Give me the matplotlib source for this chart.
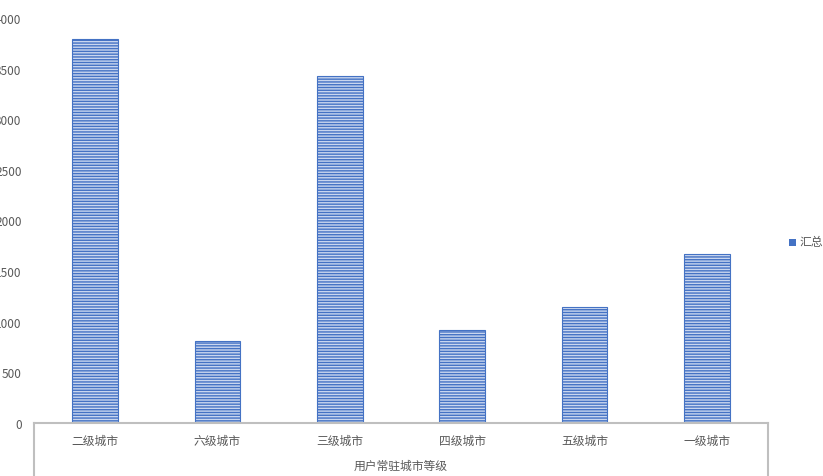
import matplotlib
matplotlib.use("Agg")
import matplotlib.pyplot as plt
from matplotlib.lines import Line2D
from matplotlib.patches import Rectangle

plt.rcParams['font.family'] = ['Noto Sans CJK SC', 'DejaVu Sans']
plt.rcParams['hatch.linewidth'] = 1.0

categories = ['二级城市', '六级城市', '三级城市', '四级城市', '五级城市', '一级城市']
values = [3795, 805, 3430, 915, 1150, 1665]
series_name = '汇总'
axis_title = '用户常驻城市等级'
yticks = [0, 500, 1000, 1500, 2000, 2500, 3000, 3500, 4000]

W, H = 823, 477
fig = plt.figure(figsize=(W/100, H/100), dpi=100)
ax = fig.add_axes([34/W, 53/H, (768-34)/W, (424-19)/H])

blue = '#4472c4'
grey = '#bfbfbf'
txt = '#595959'

x = list(range(len(categories)))
ax.bar(x, values, width=0.376, facecolor='#c9d6ef', edgecolor=blue,
       hatch='------', linewidth=0.8)

ax.set_xlim(-0.5, len(categories) - 0.5)
ax.set_ylim(0, 4000)
ax.set_yticks(yticks)
ax.set_yticklabels([str(v) for v in yticks], color=txt, fontsize=8.5)
ax.set_xticks(x)
ax.set_xticklabels(categories, color=txt, fontsize=8.5)
ax.tick_params(axis='y', length=0, pad=9)
ax.tick_params(axis='x', length=0, pad=8)
for s in ['left', 'right', 'top']:
    ax.spines[s].set_visible(False)
ax.spines['bottom'].set_color(grey)
ax.spines['bottom'].set_linewidth(1.5)

ext = -60 / (424 - 19)
for xx in (0, 1):
    ax.add_line(Line2D([xx, xx], [0, ext], transform=ax.transAxes,
                       color=grey, linewidth=1.5, clip_on=False))

ax.text(0.5, -42/(424-19), axis_title, transform=ax.transAxes,
        ha='center', va='center', color=txt, fontsize=8.5)

# legend
fig.patches.append(Rectangle((789/W, 1 - 247/H), 7/W, 7/H, transform=fig.transFigure,
                             facecolor=blue, edgecolor='none'))
fig.text(799/W, 1 - 243/H, series_name, ha='left', va='center', color=txt, fontsize=8.5)

fig.savefig('out.png', dpi=100)
